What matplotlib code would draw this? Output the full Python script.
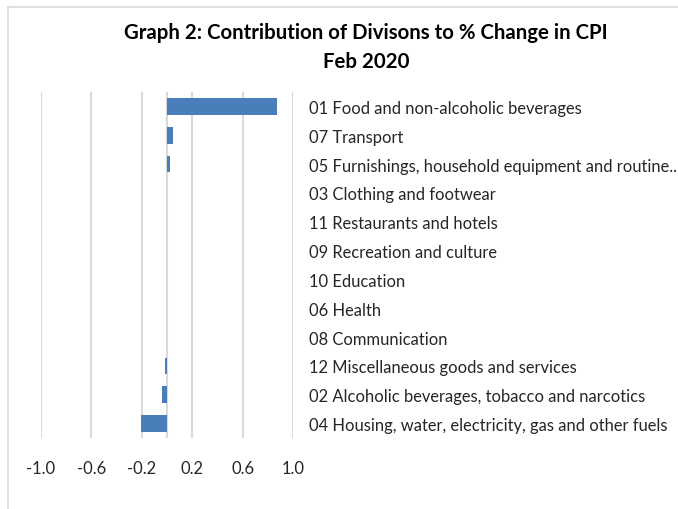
import matplotlib.pyplot as plt
from matplotlib.patches import Rectangle

# divisions, top to bottom as in the chart
divisions = [
    "01 Food and non-alcoholic beverages",
    "07 Transport",
    "05 Furnishings, household equipment and routine..",
    "03 Clothing and footwear",
    "11 Restaurants and hotels",
    "09 Recreation and culture",
    "10 Education",
    "06 Health",
    "08 Communication",
    "12 Miscellaneous goods and services",
    "02 Alcoholic beverages, tobacco and narcotics",
    "04 Housing, water, electricity, gas and other fuels",
]
contribution = [0.87, 0.05, 0.02, 0.0, 0.0, 0.0, 0.0, 0.0, 0.0, -0.015, -0.04, -0.21]
xticks = [-1.0, -0.6, -0.2, 0.2, 0.6, 1.0]

plt.rcParams['font.family'] = ['Lato', 'DejaVu Sans']

fig = plt.figure(figsize=(6.78, 5.10), dpi=100)
# chart border (cut off on right/bottom like the screenshot)
fig.patches.append(Rectangle((8 / 678, -0.1), 1.2, 1 - 7.5 / 510 + 0.1,
                             transform=fig.transFigure, fill=False,
                             edgecolor="#d9d9d9", linewidth=1.2))

ax = fig.add_axes([41 / 678, 1 - 439 / 510, 252 / 678, 346 / 510])
ypos = list(range(len(divisions)))
ax.barh(ypos, contribution, height=0.58, color="#4a7ebb", zorder=3)
ax.set_ylim(len(divisions) - 0.5, -0.5)
ax.set_xlim(-1.0, 1.0)
ax.set_xticks(xticks)
ax.set_xticklabels([f"{t:.1f}" for t in xticks])
for t in xticks:
    ax.axvline(t, color="#d9d9d9", linewidth=1.5, zorder=1)
ax.axvline(0, color="#d9d9d9", linewidth=1.5, zorder=2)

ax.set_yticks(ypos)
ax.set_yticklabels(divisions)
ax.yaxis.tick_right()
ax.tick_params(axis="y", length=0, pad=11.5, labelsize=11.9, labelcolor="#262626")
ax.tick_params(axis="x", length=0, pad=15.5, labelsize=11.9, labelcolor="#262626")
for s in ax.spines.values():
    s.set_visible(False)

fig.text(366 / 678, 1 - 33 / 510, "Graph 2: Contribution of Divisons to % Change in CPI",
         ha="center", va="center", fontsize=14.7, fontweight="bold", color="#000000")
fig.text(366 / 678, 1 - 62 / 510, "Feb 2020",
         ha="center", va="center", fontsize=14.7, fontweight="bold", color="#000000")

fig.savefig("out.png", dpi=100)
